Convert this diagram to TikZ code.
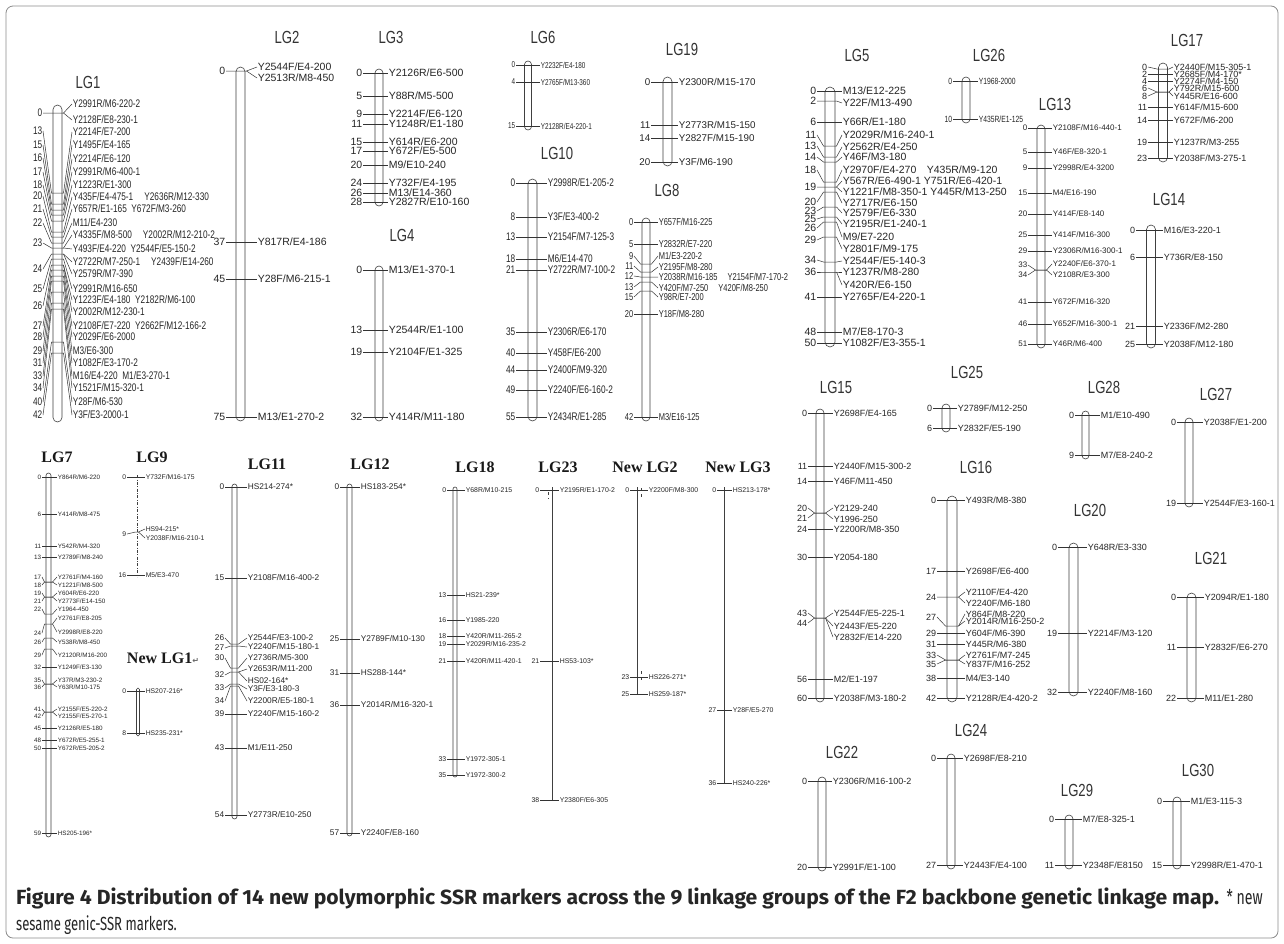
\documentclass[tikz,border=0pt]{standalone}
\usepackage{fontspec}
\setmainfont{Liberation Sans}
\newfontfamily\labfont{Liberation Sans}
\newfontfamily\labnarrow[FakeStretch=0.75]{Liberation Sans}
\newfontfamily\serfont{Liberation Serif}
\newfontfamily\capfont[FakeStretch=1.03]{Fira Sans}
\newfontfamily\capthin[FakeStretch=0.69]{Fira Sans}
\newfontfamily\symfont{DejaVu Sans}

\def\lgfont{}
\tikzset{
  chrom/.style={draw=black!75, line width=0.6pt},
  tick/.style={draw=black!80, line width=0.5pt},
  mknum/.style={anchor=east, inner sep=0.6pt, text=black!85, font=\lgfont},
  mklab/.style={anchor=west, inner sep=0.6pt, text=black!85, font=\lgfont},
  lgtitle/.style={text=black!80, font=\labnarrow\fontsize{17.5}{18}\selectfont},
  sertitle/.style={text=black!90, font=\serfont\bfseries\fontsize{16}{17}\selectfont}
}

% group: bar centre, half width, number x, name x, font
\newcommand{\lggroup}[5]{\def\lgbx{#1}\def\lghw{#2}\def\lgnx{#3}\def\lglx{#4}\def\lgfont{#5}}
% marker: y, position, name
\newcommand{\lgmark}[3]{%
  \node[mknum] (num) at (\lgnx,#1) {#2};
  \node[mklab] (lab) at (\lglx,#1) {#3};
  \draw[tick] (num.east) -- (lab.west);}
% fanned marker: tick y, position, position y, name, name y
\newcommand{\lgfan}[5]{%
  \node[mknum] (num) at (\lgnx,#3) {#2};
  \node[mklab] (lab) at (\lglx,#5) {#4};
  \draw[tick] (num.east) -- (\lgbx-\lghw-1.5,#1) -- (\lgbx+\lghw+1.5,#1) -- (lab.west);}
% second name on a marker: tick y, name, name y
\newcommand{\lgextra}[3]{%
  \node[mklab] (lab) at (\lglx,#3) {#2};
  \draw[tick] (\lgbx+\lghw+1.5,#1) -- (lab.west);}
% chromosome: top, bottom
\newcommand{\lgbar}[2]{\draw[chrom, rounded corners=\lghw pt] (\lgbx-\lghw,#1) rectangle (\lgbx+\lghw,#2);}

\begin{document}
\begin{tikzpicture}[x=1pt, y=-1pt]
\useasboundingbox (0,0) rectangle (1284,943);
\fill[white] (0,0) rectangle (1284,943);
\draw[black!45, line width=0.8pt, rounded corners=7pt] (6,6) rectangle (1278,938);

% LG1
\node[lgtitle] (t1) at (88,82) {LG1};
\lggroup{57.5}{4.5}{43}{72}{\labnarrow\fontsize{11}{12}\selectfont}
\lgbar{105}{422}
\lgfan{113}{0}{113}{Y2991R/M6-220-2}{104}
\lgextra{113}{Y2128F/E8-230-1}{120}
\lgfan{193}{13}{131}{Y2214F/E7-200}{132}
\lgfan{204}{15}{145}{Y1495F/E4-165}{145}
\lgfan{210}{16}{158}{Y2214F/E6-120}{159}
\lgfan{215}{17}{172}{Y2991R/M6-400-1}{172}
\lgfan{221}{18}{185}{Y1223R/E1-300}{185}
\lgfan{232}{20}{196}{Y435F/E4-475-1\quad Y2636R/M12-330}{197}
\lgfan{237}{21}{209}{Y657R/E1-165\ \ Y672F/M3-260}{209}
\lgfan{243}{22}{223}{M11/E4-230}{223}
\lgfan{248}{23}{243}{Y4335F/M8-500\quad Y2002R/M12-210-2}{235}
\lgextra{248}{Y493F/E4-220\ \ Y2544F/E5-150-2}{249}
\lgfan{254}{24}{269}{Y2722R/M7-250-1\quad Y2439F/E14-260}{262}
\lgextra{254}{Y2579R/M7-390}{274}
\lgfan{259}{25}{289}{Y2991R/M16-650}{289}
\lgfan{265}{26}{306}{Y1223F/E4-180\ \ Y2182R/M6-100}{300}
\lgextra{265}{Y2002R/M12-230-1}{312}
\lgfan{270}{27}{326}{Y2108F/E7-220\ \ Y2662F/M12-166-2}{326}
\lgfan{276}{28}{337}{Y2029F/E6-2000}{337}
\lgfan{281}{29}{351}{M3/E6-300}{351}
\lgfan{292}{31}{363}{Y1082F/E3-170-2}{363}
\lgfan{303}{33}{376}{M16/E4-220\ \ M1/E3-270-1}{376}
\lgfan{309}{34}{388}{Y1521F/M15-320-1}{388}
\lgfan{342}{40}{402}{Y28F/M6-530}{402}
\lgfan{353}{42}{415}{Y3F/E3-2000-1}{415}

% LG2
\node[lgtitle] (t2) at (287,37) {LG2};
\lggroup{240.5}{4.5}{226}{257}{\labfont\fontsize{10.5}{11}\selectfont}
\lgbar{67}{421}
\lgfan{71}{0}{71}{Y2544F/E4-200}{67}
\lgextra{71}{Y2513R/M8-450}{78}
\lgmark{242}{37}{Y817R/E4-186}
\lgmark{279}{45}{Y28F/M6-215-1}
\lgmark{417}{75}{M13/E1-270-2}

% LG3
\node[lgtitle] (t3) at (391,37) {LG3};
\lggroup{379}{4}{363}{388}{\labfont\fontsize{10.5}{11}\selectfont}
\lgbar{69}{206}
\lgmark{73}{0}{Y2126R/E6-500}
\lgmark{96}{5}{Y88R/M5-500}
\lgmark{114}{9}{Y2214F/E6-120}
\lgmark{124}{11}{Y1248R/E1-180}
\lgmark{142}{15}{Y614R/E6-200}
\lgmark{151}{17}{Y672F/E5-500}
\lgmark{165}{20}{M9/E10-240}
\lgmark{183}{24}{Y732F/E4-195}
\lgmark{193}{26}{M13/E14-360}
\lgmark{202}{28}{Y2827R/E10-160}

% LG4
\node[lgtitle] (t4) at (402,235) {LG4};
\lggroup{379}{4}{363}{388}{\labfont\fontsize{10.5}{11}\selectfont}
\lgbar{266}{421}
\lgmark{270}{0}{M13/E1-370-1}
\lgmark{330}{13}{Y2544R/E1-100}
\lgmark{352}{19}{Y2104F/E1-325}
\lgmark{417}{32}{Y414R/M11-180}

% LG6
\node[lgtitle] (t6) at (543,37) {LG6};
\lggroup{528}{3.5}{516}{540}{\labnarrow\fontsize{8.5}{9}\selectfont}
\lgbar{61}{130}
\lgmark{65}{0}{Y2232F/E4-180}
\lgmark{82}{4}{Y2765F/M13-360}
\lgmark{126}{15}{Y2128R/E4-220-1}

% LG10
\node[lgtitle] (t10) at (557,153) {LG10};
\lggroup{532.5}{4.5}{516}{547}{\labnarrow\fontsize{11}{12}\selectfont}
\lgbar{179}{421}
\lgmark{183}{0}{Y2998R/E1-205-2}
\lgmark{217}{8}{Y3F/E3-400-2}
\lgmark{237}{13}{Y2154F/M7-125-3}
\lgmark{259}{18}{M6/E14-470}
\lgmark{270}{21}{Y2722R/M7-100-2}
\lgmark{332}{35}{Y2306R/E6-170}
\lgmark{353}{40}{Y458F/E6-200}
\lgmark{370}{44}{Y2400F/M9-320}
\lgmark{390}{49}{Y2240F/E6-160-2}
\lgmark{417}{55}{Y2434R/E1-285}

% LG19
\node[lgtitle] (t19) at (682,49) {LG19};
\lggroup{667.5}{4.5}{651}{678}{\labfont\fontsize{9.8}{11}\selectfont}
\lgbar{77}{166}
\lgmark{82}{0}{Y2300R/M15-170}
\lgmark{125}{11}{Y2773R/M15-150}
\lgmark{138}{14}{Y2827F/M15-190}
\lgmark{162}{20}{Y3F/M6-190}

% LG8
\node[lgtitle] (t8) at (667,190) {LG8};
\lggroup{646}{4}{634}{658}{\labnarrow\fontsize{10}{11}\selectfont}
\lgbar{218}{421}
\lgmark{222}{0}{Y657F/M16-225}
\lgmark{244}{5}{Y2832R/E7-220}
\lgfan{264}{9}{256}{M1/E3-220-2}{256}
\lgfan{272}{11}{266}{Y2195F/M8-280}{267}
\lgfan{277}{12}{276}{Y2038R/M16-185\quad Y2154F/M7-170-2}{277}
\lgfan{282}{13}{287}{Y420F/M7-250\quad Y420F/M8-250}{288}
\lgfan{291}{15}{297}{Y98R/E7-200}{297}
\lgmark{314}{20}{Y18F/M8-280}
\lgmark{417}{42}{M3/E16-125}

% LG5
\node[lgtitle] (t5) at (857,55) {LG5};
\lggroup{830}{5}{817}{842}{\labfont\fontsize{10.5}{11}\selectfont}
\lgbar{87}{347}
\lgmark{91}{0}{M13/E12-225}
\lgfan{101}{2}{101}{Y22F/M13-490}{103}
\lgmark{122}{6}{Y66R/E1-180}
\lgfan{146}{11}{135}{Y2029R/M16-240-1}{135}
\lgfan{157}{13}{146}{Y2562R/E4-250}{147}
\lgfan{162}{14}{157}{Y46F/M3-180}{157}
\lgfan{182}{18}{170}{Y2970F/E4-270\quad Y435R/M9-120}{170}
\lgfan{187}{19}{187}{Y567R/E6-490-1 Y751R/E6-420-1}{181}
\lgextra{187}{Y1221F/M8-350-1 Y445R/M13-250}{192}
\lgfan{192}{20}{202}{Y2717R/E6-150}{203}
\lgfan{207}{23}{211}{Y2579F/E6-330}{213}
\lgfan{217}{25}{219}{Y2195R/E1-240-1}{224}
\lgfan{222}{26}{228}{M9/E7-220}{237}
\lgfan{237}{29}{240}{Y2801F/M9-175}{249}
\lgfan{262}{34}{260}{Y2544F/E5-140-3}{261}
\lgfan{272}{36}{272}{Y1237R/M8-280}{272}
\lgextra{272}{Y420R/E6-150}{285}
\lgmark{297}{41}{Y2765F/E4-220-1}
\lgmark{332}{48}{M7/E8-170-3}
\lgmark{343}{50}{Y1082F/E3-355-1}

% LG26
\node[lgtitle] (t26) at (989,55) {LG26};
\lggroup{966}{4}{953}{978}{\labnarrow\fontsize{9}{10}\selectfont}
\lgbar{77}{123}
\lgmark{81}{0}{Y1968-2000}
\lgmark{119}{10}{Y435R/E1-125}

% LG13
\node[lgtitle] (t13) at (1055,104) {LG13};
\lggroup{1041}{4}{1028}{1052}{\labfont\fontsize{8}{9}\selectfont}
\lgbar{125}{348}
\lgmark{128}{0}{Y2108F/M16-440-1}
\lgmark{152}{5}{Y46F/E8-320-1}
\lgmark{168}{9}{Y2998R/E4-3200}
\lgmark{193}{15}{M4/E16-190}
\lgmark{214}{20}{Y414F/E8-140}
\lgmark{235}{25}{Y414F/M16-300}
\lgmark{251}{29}{Y2306R/M16-300-1}
\lgfan{270}{33}{265}{Y2240F/E6-370-1}{264}
\lgfan{270}{34}{275}{Y2108R/E3-300}{275}
\lgmark{302}{41}{Y672F/M16-320}
\lgmark{324}{46}{Y652F/M16-300-1}
\lgmark{344}{51}{Y46R/M6-400}

% LG17
\node[lgtitle] (t17) at (1187,40) {LG17};
\lggroup{1163}{4.5}{1148}{1173}{\labfont\fontsize{9}{10}\selectfont}
\lgbar{63}{162}
\lgfan{69}{0}{67}{Y2440F/M15-305-1}{67}
\lgmark{74}{2}{Y2685F/M4-170*}
\lgmark{81}{4}{Y2274F/M4-150}
\lgfan{92}{6}{88}{Y792R/M15-600}{88}
\lgfan{92}{8}{96}{Y445R/E16-600}{96}
\lgmark{107}{11}{Y614F/M15-600}
\lgmark{120}{14}{Y672F/M6-200}
\lgmark{142}{19}{Y1237R/M3-255}
\lgmark{158}{23}{Y2038F/M3-275-1}

% LG14
\node[lgtitle] (t14) at (1169,199) {LG14};
\lggroup{1151}{4.5}{1136}{1163}{\labfont\fontsize{9}{10}\selectfont}
\lgbar{225}{348}
\lgmark{230}{0}{M16/E3-220-1}
\lgmark{257}{6}{Y736R/E8-150}
\lgmark{326}{21}{Y2336F/M2-280}
\lgmark{344}{25}{Y2038F/M12-180}

% LG15
\node[lgtitle] (t15) at (836,387) {LG15};
\lggroup{820}{4}{808}{833}{\labfont\fontsize{9}{10}\selectfont}
\lgbar{409}{702}
\lgmark{413}{0}{Y2698F/E4-165}
\lgmark{466}{11}{Y2440F/M15-300-2}
\lgmark{481}{14}{Y46F/M11-450}
\lgfan{513}{20}{508}{Y2129-240}{508}
\lgfan{513}{21}{518}{Y1996-250}{519}
\lgmark{529}{24}{Y2200R/M8-350}
\lgmark{557}{30}{Y2054-180}
\lgfan{618}{43}{613}{Y2544F/E5-225-1}{613}
\lgfan{618}{44}{623}{Y2443F/E5-220}{626}
\lgextra{618}{Y2832F/E14-220}{637}
\lgmark{679}{56}{M2/E1-197}
\lgmark{698}{60}{Y2038F/M3-180-2}

% LG25
\node[lgtitle] (t25) at (967,372) {LG25};
\lggroup{946}{4}{933}{957}{\labfont\fontsize{9}{10}\selectfont}
\lgbar{404}{432}
\lgmark{408}{0}{Y2789F/M12-250}
\lgmark{428}{6}{Y2832F/E5-190}

% LG16
\node[lgtitle] (t16) at (976,467) {LG16};
\lggroup{952}{5}{937}{965}{\labfont\fontsize{9}{10}\selectfont}
\lgbar{496}{702}
\lgmark{500}{0}{Y493R/M8-380}
\lgmark{571}{17}{Y2698F/E6-400}
\lgfan{597}{24}{597}{Y2110F/E4-420}{592}
\lgextra{597}{Y2240F/M6-180}{603}
\lgfan{626}{27}{617}{Y864F/M8-220}{614}
\lgextra{626}{Y2014R/M16-250-2}{621}
\lgmark{633}{29}{Y604F/M6-390}
\lgmark{644}{31}{Y445R/M6-380}
\lgfan{660}{33}{655}{Y2761F/M7-245}{655}
\lgfan{660}{35}{664}{Y837F/M16-252}{664}
\lgmark{678}{38}{M4/E3-140}
\lgmark{698}{42}{Y2128R/E4-420-2}

% LG28
\node[lgtitle] (t28) at (1104,387) {LG28};
\lggroup{1085.5}{3.5}{1075}{1100}{\labfont\fontsize{9}{10}\selectfont}
\lgbar{411}{459}
\lgmark{415}{0}{M1/E10-490}
\lgmark{455}{9}{M7/E8-240-2}

% LG27
\node[lgtitle] (t27) at (1216,394) {LG27};
\lggroup{1189}{4}{1177}{1203}{\labfont\fontsize{9}{10}\selectfont}
\lgbar{418}{507}
\lgmark{422}{0}{Y2038F/E1-200}
\lgmark{503}{19}{Y2544F/E3-160-1}

% LG20
\node[lgtitle] (t20) at (1090,510) {LG20};
\lggroup{1073.5}{4.5}{1058}{1087}{\labfont\fontsize{9}{10}\selectfont}
\lgbar{543}{696}
\lgmark{547}{0}{Y648R/E3-330}
\lgmark{633}{19}{Y2214F/M3-120}
\lgmark{692}{32}{Y2240F/M8-160}

% LG21
\node[lgtitle] (t21) at (1211,558) {LG21};
\lggroup{1191.5}{4.5}{1177}{1204}{\labfont\fontsize{9}{10}\selectfont}
\lgbar{593}{702}
\lgmark{597}{0}{Y2094R/E1-180}
\lgmark{647}{11}{Y2832F/E6-270}
\lgmark{698}{22}{M11/E1-280}

% LG22
\node[lgtitle] (t22) at (842,752) {LG22};
\lggroup{822}{4}{808}{832}{\labfont\fontsize{9}{10}\selectfont}
\lgbar{777}{871}
\lgmark{781}{0}{Y2306R/M16-100-2}
\lgmark{867}{20}{Y2991F/E1-100}

% LG24
\node[lgtitle] (t24) at (971,730) {LG24};
\lggroup{951}{4}{937}{963}{\labfont\fontsize{9}{10}\selectfont}
\lgbar{754}{869}
\lgmark{758}{0}{Y2698F/E8-210}
\lgmark{865}{27}{Y2443F/E4-100}

% LG29
\node[lgtitle] (t29) at (1077,790) {LG29};
\lggroup{1069}{4}{1055}{1082}{\labfont\fontsize{9}{10}\selectfont}
\lgbar{815}{869}
\lgmark{819}{0}{M7/E8-325-1}
\lgmark{865}{11}{Y2348F/E8150}

% LG30
\node[lgtitle] (t30) at (1198,770) {LG30};
\lggroup{1177}{4}{1163}{1190}{\labfont\fontsize{9}{10}\selectfont}
\lgbar{797}{869}
\lgmark{801}{0}{M1/E3-115-3}
\lgmark{865}{15}{Y2998R/E1-470-1}

% LG7
\node[sertitle] (t7) at (57,457) {LG7};
\lggroup{48.5}{2.5}{42}{57}{\labfont\fontsize{6.3}{7}\selectfont}
\lgbar{473}{837}
\lgmark{477}{0}{Y864R/M6-220}
\lgmark{514}{6}{Y414R/M8-475}
\lgmark{546}{11}{Y542R/M4-320}
\lgmark{557}{13}{Y2789F/M8-240}
\lgfan{582}{17}{577}{Y2761F/M4-160}{577}
\lgfan{582}{18}{585}{Y1221F/M8-500}{585}
\lgfan{597}{19}{593}{Y604R/E6-220}{593}
\lgfan{597}{21}{601}{Y2773F/E14-150}{601}
\lgfan{614}{22}{609}{Y1964-450}{609}
\lgfan{624}{24}{633}{Y2761F/E8-205}{618}
\lgextra{624}{Y2998R/E8-220}{632}
\lgfan{638}{26}{642}{Y538R/M8-450}{642}
\lgfan{649}{29}{655}{Y2120R/M16-200}{655}
\lgmark{667}{32}{Y1249F/E3-130}
\lgfan{684}{35}{680}{Y37R/M3-230-2}{680}
\lgfan{684}{36}{687}{Y63R/M10-175}{687}
\lgfan{712}{41}{709}{Y2155F/E5-220-2}{709}
\lgfan{712}{42}{716}{Y2155F/E5-270-1}{716}
\lgmark{728}{45}{Y2126R/E5-180}
\lgmark{740}{48}{Y672R/E5-255-1}
\lgmark{748}{50}{Y672R/E5-205-2}
\lgmark{833}{59}{HS205-196*}

% LG9
\node[sertitle] (t9) at (152,457) {LG9};
\lggroup{137}{0}{127}{145}{\labfont\fontsize{6.8}{7}\selectfont}
\draw[chrom, dash pattern=on 3pt off 1.5pt on 0.8pt off 1.5pt] (\lgbx,475) -- (\lgbx,577);
\lgmark{477}{0}{Y732F/M16-175}
\lgfan{532}{9}{534}{HS94-215*}{529}
\lgextra{532}{Y2038F/M16-210-1}{538}
\lgmark{575}{16}{M5/E3-470}

% New LG1
\node[sertitle] (tn1) at (163,658) {New LG1{\symfont\fontsize{8}{8}\selectfont\color{black!60}↵}};
\lggroup{138}{1.5}{127}{145}{\labfont\fontsize{6.8}{7}\selectfont}
\lgbar{688}{736}
\lgmark{691}{0}{HS207-216*}
\lgmark{733}{8}{HS235-231*}

% LG11
\node[sertitle] (t11) at (267,464) {LG11};
\lggroup{234.5}{2.5}{225}{247}{\labfont\fontsize{8.3}{9}\selectfont}
\lgbar{484}{819}
\lgmark{487}{0}{HS214-274*}
\lgmark{578}{15}{Y2108F/M16-400-2}
\lgfan{644}{26}{638}{Y2544F/E3-100-2}{638}
\lgfan{646}{27}{648}{Y2240F/M15-180-1}{647}
\lgfan{668}{30}{658}{Y2736R/M5-300}{658}
\lgfan{672}{32}{675}{Y2653R/M11-200}{669}
\lgextra{672}{HS02-164*}{681}
\lgfan{684}{33}{688}{Y3F/E3-180-3}{689}
\lgfan{686}{34}{701}{Y2200R/E5-180-1}{701}
\lgmark{714}{39}{Y2240F/M15-160-2}
\lgmark{748}{43}{M1/E11-250}
\lgmark{815}{54}{Y2773R/E10-250}

% LG12
\node[sertitle] (t12) at (370,464) {LG12};
\lggroup{349.5}{2.5}{340}{360}{\labfont\fontsize{8.3}{9}\selectfont}
\lgbar{484}{836}
\lgmark{487}{0}{HS183-254*}
\lgmark{639}{25}{Y2789F/M10-130}
\lgmark{673}{31}{HS288-144*}
\lgmark{705}{36}{Y2014R/M16-320-1}
\lgmark{833}{57}{Y2240F/E8-160}

% LG18
\node[sertitle] (t18) at (475,467) {LG18};
\lggroup{455}{2}{447}{465}{\labfont\fontsize{6.9}{7}\selectfont}
\lgbar{487}{777}
\lgmark{490}{0}{Y68R/M10-215}
\lgmark{595}{13}{HS21-239*}
\lgmark{620}{16}{Y1985-220}
\lgmark{636}{18}{Y420R/M11-265-2}
\lgmark{644}{19}{Y2029R/M16-235-2}
\lgmark{661}{21}{Y420R/M11-420-1}
\lgmark{759}{33}{Y1972-305-1}
\lgmark{775}{35}{Y1972-300-2}

% LG23
\node[sertitle] (t23) at (558,467) {LG23};
\lggroup{552}{0}{540}{559}{\labfont\fontsize{6.9}{7}\selectfont}
\draw[chrom] (\lgbx,487) -- (\lgbx,800);
\draw[chrom, dashed] (\lgbx-4,492) -- (\lgbx-4,499);
\lgmark{490}{0}{Y2195R/E1-170-2}
\lgmark{661}{21}{HS53-103*}
\lgmark{800}{38}{Y2380F/E6-305}

% New LG2
\node[sertitle] (tn2) at (645,467) {New LG2};
\lggroup{637}{0}{630}{648}{\labfont\fontsize{6.9}{7}\selectfont}
\draw[chrom] (\lgbx,487) -- (\lgbx,694);
\draw[chrom, dashed] (\lgbx+4,488) -- (\lgbx+4,499);
\draw[chrom, dashed] (\lgbx+4,671) -- (\lgbx+4,683);
\lgmark{490}{0}{Y2200F/M8-300}
\lgmark{677}{23}{HS226-271*}
\lgmark{694}{25}{HS259-187*}

% New LG3
\node[sertitle] (tn3) at (738,467) {New LG3};
\lggroup{724}{0}{717}{732}{\labfont\fontsize{6.9}{7}\selectfont}
\draw[chrom] (\lgbx,487) -- (\lgbx,783);
\lgmark{490}{0}{HS213-178*}
\lgmark{710}{27}{Y28F/E5-270}
\lgmark{783}{36}{HS240-226*}

% caption
\node[anchor=west, inner sep=0pt, text=black!85, font=\capfont\fontsize{20.5}{22}\selectfont] (cap1) at (16,898)
  {\textbf{Figure 4 Distribution of 14 new polymorphic SSR markers across the 9 linkage groups of the F2 backbone genetic linkage map.} {\capthin * new}};
\node[anchor=west, inner sep=0pt, text=black!85, font=\capthin\fontsize{19}{22}\selectfont] (cap2) at (16,925)
  {sesame genic-SSR markers.};
\end{tikzpicture}
\end{document}
